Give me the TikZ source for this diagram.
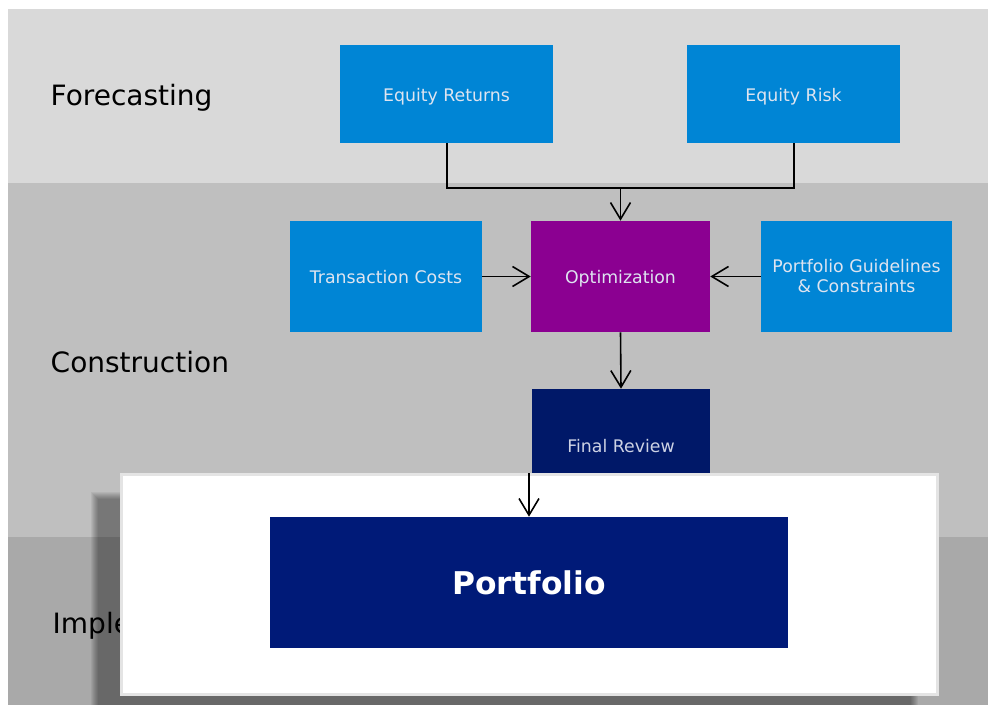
\documentclass[tikz,border=0pt]{standalone}
\usepackage{fontspec}
\setmainfont{DejaVu Sans}
\usetikzlibrary{arrows.meta}
\definecolor{bandA}{RGB}{217,217,217}
\definecolor{bandB}{RGB}{191,191,191}
\definecolor{bandC}{RGB}{169,169,169}
\definecolor{blueBox}{RGB}{0,133,213}
\definecolor{purpleBox}{RGB}{139,0,145}
\definecolor{navyBox}{RGB}{0,24,104}
\definecolor{portBox}{RGB}{0,26,120}
\definecolor{boxText}{RGB}{222,228,240}
\definecolor{wbBorder}{RGB}{228,228,228}
\newcommand{\lowtext}[1]{\raisebox{-5.5pt}[0pt][0pt]{#1}}
\tikzset{
  bandlabel/.style={anchor=west, text=black, font=\fontsize{21}{25}\selectfont},
  flowbox/.style={rectangle, inner sep=0pt, text=boxText, align=center,
    font=\fontsize{13}{15}\selectfont},
  bluebox/.style={flowbox, fill=blueBox, minimum width=#1},
  flowarrow/.style={draw=black, line width=1.2pt, -{Straight Barb[length=12.5pt,width=15pt,line width=1.2pt]}},
  flowline/.style={draw=black, line width=1.5pt},
}
\begin{document}
\begin{tikzpicture}[x=0.75pt,y=-0.75pt]
\useasboundingbox (0,0) rectangle (988,705);
\clip (0,0) rectangle (988,705);
\fill[white] (0,0) rectangle (988,705);
% bands
\fill[bandA] (8,9) rectangle (988,183);
\fill[bandB] (8,183) rectangle (988,537);
\fill[bandC] (8,537) rectangle (988,705);
\node[bandlabel] (lf) at (46,98) {Forecasting};
\node[bandlabel] (lc) at (46,362) {Construction};
\node[bandlabel] (li) at (48,626) {Implementation};
% boxes
\node[bluebox=159.75pt, minimum height=73.5pt] (er) at (446.5,94) {\lowtext{Equity Returns}};
\node[bluebox=159.75pt, minimum height=73.5pt] (ek) at (793.5,94) {\lowtext{Equity Risk}};
\node[bluebox=144pt, minimum height=83.25pt] (tc) at (386,276.5) {\lowtext{Transaction Costs}};
\node[flowbox, fill=purpleBox, minimum width=134.25pt, minimum height=83.25pt] (opt) at (620.5,276.5) {\lowtext{Optimization}};
\node[bluebox=143.25pt, minimum height=83.25pt] (pg) at (856.5,276.5) {Portfolio Guidelines\\\& Constraints};
\node[flowbox, fill=navyBox, text={rgb,255:red,205;green,210;blue,228}, minimum width=133.5pt, minimum height=85.5pt] (fr) at (621,446) {Final Review};
% connectors
\coordinate (j) at (620.5,188);
\draw[flowline] (er.south) |- (j) -| (ek.south);
\draw[flowarrow] (j) -- (opt.north);
\draw[flowarrow] (tc.east) -- (opt.west);
\draw[flowarrow] (pg.west) -- (opt.east);
\draw[flowarrow] (opt.south) -- (fr.north);
% shadow
\foreach \i in {0,...,7}
  \fill[black, opacity=0.055] (91+\i,492+\i) rectangle (918-\i,740);
% white box
\node[rectangle, fill=white, draw=wbBorder, line width=2.25pt, minimum width=612pt, minimum height=165pt, inner sep=0pt] (wb) at (529,584.5) {};
\node[rectangle, fill=portBox, text=white, inner sep=0pt, minimum width=388.5pt, minimum height=98.25pt,
  font=\bfseries\fontsize{23.5}{28}\selectfont] (port) at (529,582.5) {Portfolio};
\draw[flowarrow] (wb.north) -- (port.north);
\end{tikzpicture}
\end{document}
